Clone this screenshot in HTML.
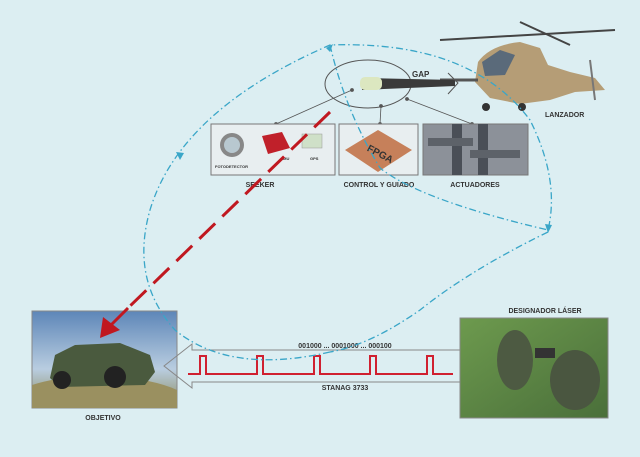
<!DOCTYPE html>
<html><head><meta charset="utf-8"><style>
body{margin:0;width:640px;height:457px;background:#dceef2;overflow:hidden;font-family:"Liberation Sans",sans-serif}
svg{position:absolute;left:0;top:0}
text{font-family:"Liberation Sans",sans-serif;font-weight:bold;fill:#333}
</style></head><body>
<svg width="640" height="457" viewBox="0 0 640 457">
<defs>
<linearGradient id="sky" x1="0" y1="0" x2="0" y2="1"><stop offset="0" stop-color="#5d86b8"/><stop offset="0.6" stop-color="#b9cde0"/><stop offset="1" stop-color="#8a8a5a"/></linearGradient>
<linearGradient id="grass" x1="0" y1="0" x2="1" y2="1"><stop offset="0" stop-color="#6d9a4e"/><stop offset="1" stop-color="#4a6f3a"/></linearGradient>
</defs>
<!-- jeep photo -->
<rect x="32" y="311" width="145" height="97" fill="url(#sky)" stroke="#888"/>
<path d="M32 385 Q80 370 130 378 Q160 382 177 390 L177 408 L32 408Z" fill="#9a9060"/>
<path d="M50 378 L55 355 L75 345 L120 343 L150 355 L155 372 L145 385 L60 387Z" fill="#4a5a3e"/>
<circle cx="62" cy="380" r="9" fill="#222"/><circle cx="115" cy="377" r="11" fill="#222"/>
<!-- laser photo -->
<rect x="460" y="318" width="148" height="100" fill="url(#grass)" stroke="#888"/>
<ellipse cx="515" cy="360" rx="18" ry="30" fill="#4d5a42"/>
<ellipse cx="575" cy="380" rx="25" ry="30" fill="#4a5640"/>
<rect x="535" y="348" width="20" height="10" fill="#333"/>
<!-- helicopter -->
<line x1="440" y1="40" x2="615" y2="30" stroke="#444" stroke-width="2"/>
<line x1="520" y1="22" x2="570" y2="45" stroke="#444" stroke-width="2"/>
<path d="M478 62 Q490 45 520 42 L540 48 L548 65 L570 72 L595 78 L605 90 L575 92 L550 100 L520 104 L490 98 L475 82 Z" fill="#b59d76"/>
<path d="M482 62 L500 50 L515 55 L505 75 L485 76Z" fill="#5a6a7a"/>
<line x1="590" y1="60" x2="595" y2="100" stroke="#777" stroke-width="2"/>
<line x1="440" y1="80" x2="478" y2="80" stroke="#555" stroke-width="3"/>
<circle cx="486" cy="107" r="4" fill="#333"/><circle cx="522" cy="107" r="4" fill="#333"/>
<!-- missile ellipse -->
<ellipse cx="368" cy="84" rx="43" ry="24" fill="none" stroke="#555" stroke-width="1"/>
<path d="M362 78 L455 80 L455 86 L362 90Z" fill="#3a3a3a"/>
<rect x="360" y="77" width="22" height="13" rx="5" fill="#dce7c0"/>
<path d="M448 73 L458 83 L448 94" fill="none" stroke="#555"/>
<text x="412" y="77" font-size="8">GAP</text>
<text x="545" y="117" font-size="7">LANZADOR</text>
<!-- connectors -->
<g stroke="#555" stroke-width="0.8" fill="#555">
<line x1="276" y1="124" x2="352" y2="90"/><circle cx="276" cy="124" r="1.5"/><circle cx="352" cy="90" r="1.5"/>
<line x1="380" y1="124" x2="381" y2="106"/><circle cx="380" cy="124" r="1.5"/><circle cx="381" cy="106" r="1.5"/>
<line x1="472" y1="124" x2="407" y2="99"/><circle cx="472" cy="124" r="1.5"/><circle cx="407" cy="99" r="1.5"/>
</g>
<!-- component boxes -->
<rect x="211" y="124" width="124" height="51" fill="#e8eef0" stroke="#777"/>
<circle cx="232" cy="145" r="12" fill="#888"/><circle cx="232" cy="145" r="8" fill="#b8c8d0"/>
<path d="M262 136 L282 132 L290 148 L268 154Z" fill="#c0202a"/>
<rect x="302" y="134" width="20" height="14" fill="#cfe0c8" stroke="#999" stroke-width="0.5"/>
<text x="215" y="168" font-size="4">FOTODETECTOR</text><text x="282" y="160" font-size="4">IMU</text><text x="310" y="160" font-size="4">GPS</text>
<rect x="339" y="124" width="79" height="51" fill="#e8eef0" stroke="#777"/>
<path d="M345 150 L378 130 L412 150 L378 172Z" fill="#c6805a"/>
<text x="367" y="156" font-size="10" fill="#222" transform="rotate(28 378 152)">FPGA</text>
<rect x="423" y="124" width="105" height="51" fill="#8c9199" stroke="#777"/>
<rect x="452" y="124" width="10" height="51" fill="#4a4f57"/><rect x="478" y="124" width="10" height="51" fill="#4a4f57"/>
<rect x="428" y="138" width="45" height="8" fill="#5d6269"/><rect x="470" y="150" width="50" height="8" fill="#5d6269"/>
<text x="260" y="187" font-size="7" text-anchor="middle">SEEKER</text>
<text x="379" y="187" font-size="7" text-anchor="middle">CONTROL Y GUIADO</text>
<text x="475" y="187" font-size="7" text-anchor="middle">ACTUADORES</text>
<!-- big outline arrow -->
<path d="M460 350 L192 350 L192 344 L164 366 L192 388 L192 382 L460 382" fill="none" stroke="#888" stroke-width="1"/>
<path d="M188 374 L200 374 L200 356 L206 356 L206 374 L257 374 L257 356 L263 356 L263 374 L314 374 L314 356 L320 356 L320 374 L370 374 L370 356 L376 356 L376 374 L427 374 L427 356 L433 356 L433 374 L453 374" fill="none" stroke="#d02030" stroke-width="2"/>
<text x="345" y="348" font-size="7" text-anchor="middle">001000 ... 0001000 ... 000100</text>
<text x="345" y="390" font-size="7" text-anchor="middle">STANAG 3733</text>
<text x="103" y="420" font-size="7" text-anchor="middle">OBJETIVO</text>
<text x="545" y="313" font-size="7" text-anchor="middle">DESIGNADOR LÁSER</text>
<!-- blue loop -->
<g fill="none" stroke="#3aa6c8" stroke-width="1.3" stroke-dasharray="7 3 1.5 3">
<path d="M330 352 Q230 375 175 330 Q130 280 150 210 Q180 110 330 45 Q470 40 530 120 Q560 180 548 230"/>
<path d="M548 232 Q470 270 420 310 Q370 345 330 352"/>
<path d="M330 45 Q345 110 380 168 Q420 200 548 230"/>
</g>
<path d="M545 224 L548 233 L552 225" fill="#3aa6c8"/>
<path d="M176 152 L180 160 L184 153" fill="#3aa6c8"/>
<path d="M326 48 L333 44 L330 52" fill="#3aa6c8"/>
<!-- red dashed line -->
<line x1="330" y1="112" x2="128" y2="308" stroke="#c01820" stroke-width="3" stroke-dasharray="22 10"/>
<line x1="128" y1="308" x2="110" y2="326" stroke="#c01820" stroke-width="3"/>
<path d="M100 338 L103 317 L120 330Z" fill="#c01820"/>
</svg>
</body></html>
